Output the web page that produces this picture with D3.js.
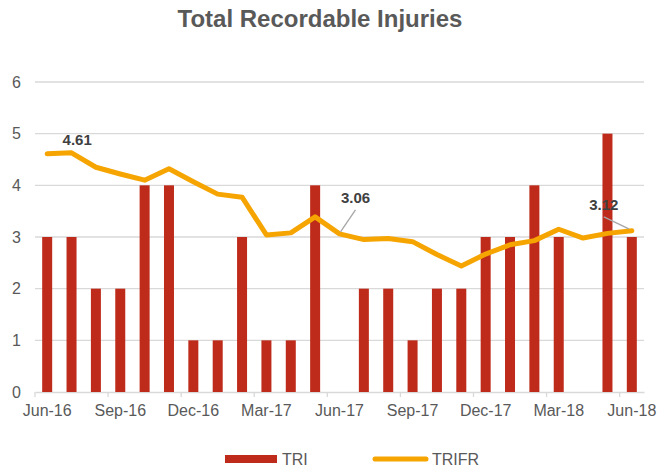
<!DOCTYPE html>
<meta charset="utf-8">
<style>
  body { margin: 0; background: #fff; }
  * { font-family: 'Liberation Sans', Arial, sans-serif; }
</style>
<svg width="661" height="469"></svg>
<script src="https://cdn.jsdelivr.net/npm/d3@7"></script>
<script>
var months = ["Jun-16","Jul-16","Aug-16","Sep-16","Oct-16","Nov-16","Dec-16","Jan-17","Feb-17","Mar-17","Apr-17","May-17",
              "Jun-17","Jul-17","Aug-17","Sep-17","Oct-17","Nov-17","Dec-17","Jan-18","Feb-18","Mar-18","Apr-18","May-18","Jun-18"];
var tri = [3,3,2,2,4,4,1,1,3,1,1,4,0,2,2,1,2,2,3,3,4,3,0,5,3];
var trifr = [4.61,4.63,4.35,4.22,4.10,4.32,4.07,3.83,3.77,3.04,3.08,3.39,3.06,2.95,2.97,2.91,2.66,2.44,2.67,2.85,2.93,3.15,2.98,3.07,3.12];
var tickMonths = ["Jun-16","Sep-16","Dec-16","Mar-17","Jun-17","Sep-17","Dec-17","Mar-18","Jun-18"];
var yTicks = [0,1,2,3,4,5,6];
var labelled = ["Jun-16","Jun-17","Jun-18"];

var svg = d3.select("svg"),
    margin = {top: 82, right: 17, bottom: 77, left: 35},
    width = 661 - margin.left - margin.right,
    height = 469 - margin.top - margin.bottom,
    g = svg.append("g").attr("transform", "translate(" + margin.left + "," + margin.top + ")");

var x = d3.scaleBand().domain(months).range([0, width]).padding(0);
var y = d3.scaleLinear().domain([0, 6]).range([height, 0]);
var bw = x.bandwidth();

// gridlines
g.append("g").selectAll("line")
    .data(yTicks.filter(function(d) { return d > 0; }))
  .enter().append("line")
    .attr("x1", 0).attr("x2", width)
    .attr("y1", function(d) { return y(d); })
    .attr("y2", function(d) { return y(d); })
    .attr("stroke", "#d9d9d9")
    .attr("stroke-width", 1.3);

// y axis
var ya = g.append("g")
    .call(d3.axisLeft(y).tickValues(yTicks).tickSize(0).tickPadding(14).tickFormat(d3.format("d")));
ya.select(".domain").remove();
ya.selectAll("text").attr("fill", "#595959").style("font-size", "16px");

// x axis
var xa = g.append("g")
    .attr("transform", "translate(0," + height + ")")
    .call(d3.axisBottom(x).tickValues(tickMonths).tickSizeOuter(0).tickSizeInner(6).tickPadding(13));
xa.select(".domain").attr("stroke", "#d9d9d9").attr("stroke-width", 1.3);
xa.selectAll(".tick line").attr("stroke", "#d9d9d9").attr("stroke-width", 1.3)
    .attr("x1", -bw / 2).attr("x2", -bw / 2).attr("y1", 0).attr("y2", 5);
xa.selectAll(".tick text").attr("fill", "#595959").style("font-size", "16px").attr("y", 13);

// bars
var barW = 10;
g.append("g").selectAll("rect")
    .data(tri)
  .enter().append("rect")
    .attr("x", function(d, i) { return x(months[i]) + bw / 2 - barW / 2; })
    .attr("y", function(d) { return y(d); })
    .attr("width", barW)
    .attr("height", function(d) { return height - y(d); })
    .attr("fill", "#be2b1a");

// line
var line = d3.line()
    .x(function(d, i) { return x(months[i]) + bw / 2; })
    .y(function(d) { return y(d); });

g.append("path")
    .datum(trifr)
    .attr("fill", "none")
    .attr("stroke", "#f5a400")
    .attr("stroke-width", 5)
    .attr("stroke-linejoin", "round")
    .attr("stroke-linecap", "round")
    .attr("d", line);

// data labels
var offsets = {"Jun-16": [30, -9, false], "Jun-17": [16, -31, true], "Jun-18": [-28, -21, true]};
labelled.forEach(function(m) {
  var i = months.indexOf(m),
      px = x(m) + bw / 2,
      py = y(trifr[i]),
      o = offsets[m];
  if (o[2]) {
    g.append("line")
        .attr("x1", px + (o[0] > 0 ? 1 : -3)).attr("y1", py - 2)
        .attr("x2", px + o[0]).attr("y2", py + o[1] + 7)
        .attr("stroke", "#a6a6a6").attr("stroke-width", 1.3);
  }
  g.append("text")
      .attr("x", px + o[0])
      .attr("y", py + o[1])
      .attr("text-anchor", "middle")
      .attr("fill", "#404040")
      .style("font-size", "15px")
      .style("font-weight", "bold")
      .text(trifr[i].toFixed(2));
});

// title
svg.append("text")
    .attr("x", 320)
    .attr("y", 27)
    .attr("text-anchor", "middle")
    .attr("fill", "#595959")
    .style("font-size", "24px")
    .style("font-weight", "bold")
    .text("Total Recordable Injuries");

// legend
var lg = svg.append("g");
lg.append("rect").attr("x", 225).attr("y", 455).attr("width", 52).attr("height", 8).attr("fill", "#be2b1a");
lg.append("text").attr("x", 282).attr("y", 465).attr("fill", "#595959").style("font-size", "16px").text("TRI");
lg.append("line").attr("x1", 375).attr("x2", 426).attr("y1", 459).attr("y2", 459)
    .attr("stroke", "#f5a400").attr("stroke-width", 5).attr("stroke-linecap", "round");
lg.append("text").attr("x", 432).attr("y", 465).attr("fill", "#595959").style("font-size", "16px").text("TRIFR");
</script>
